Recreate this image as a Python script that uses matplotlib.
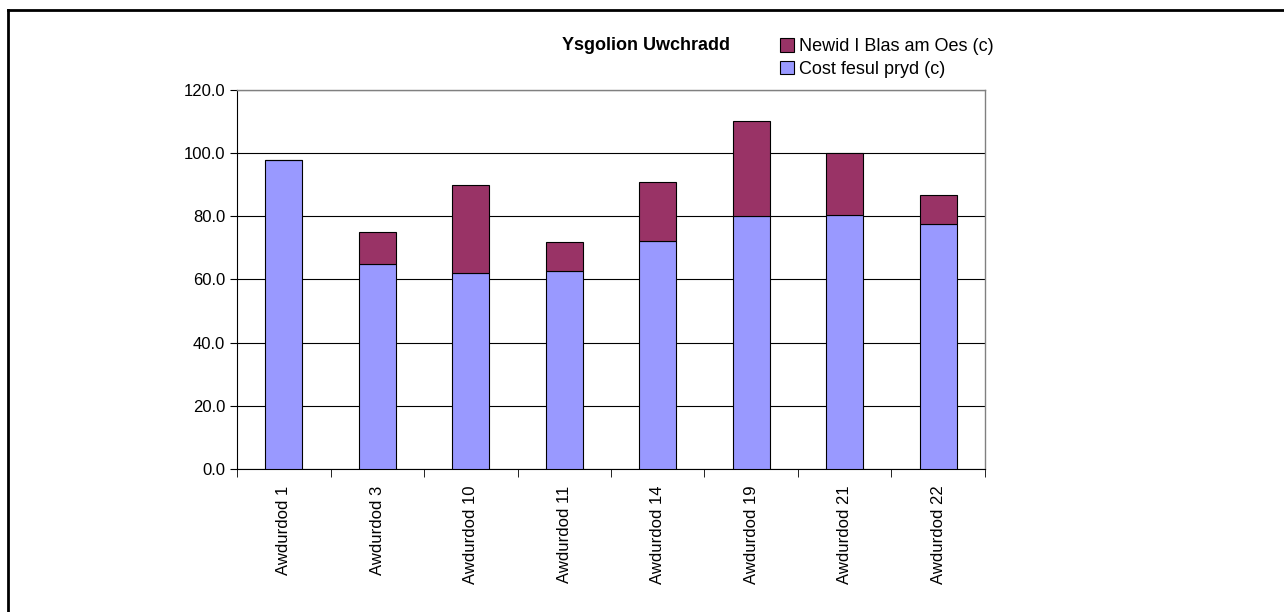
import numpy as np
import matplotlib
matplotlib.use('Agg')
import matplotlib.pyplot as plt
from matplotlib.lines import Line2D
from matplotlib.patches import Patch

plt.rcParams['font.family'] = ['Liberation Sans', 'DejaVu Sans']

categories = ['Awdurdod 1', 'Awdurdod 3', 'Awdurdod 10', 'Awdurdod 11',
              'Awdurdod 14', 'Awdurdod 19', 'Awdurdod 21', 'Awdurdod 22']
cost_per_meal = [97.8, 64.8, 62.0, 62.8, 72.1, 80.0, 80.5, 77.5]
change_appetite = [0.0, 10.2, 28.0, 9.2, 18.7, 30.1, 19.7, 9.3]
yticks = [0, 20, 40, 60, 80, 100, 120]

blue = '#9999ff'
purple = '#993366'

fig = plt.figure(figsize=(12.84, 6.12), dpi=100)
ax = fig.add_axes([0.1846, 0.2337, 0.5825, 0.6193])

x = np.arange(len(categories))
ax.bar(x, cost_per_meal, width=0.4, color=blue, edgecolor='black', linewidth=0.8, zorder=3)
ax.bar(x, change_appetite, width=0.4, bottom=cost_per_meal, color=purple,
       edgecolor='black', linewidth=0.8, zorder=3)

ax.set_xlim(-0.5, len(categories) - 0.5)
ax.set_ylim(0, 120)
ax.set_yticks(yticks)
ax.set_yticklabels([f'{v:.1f}' for v in yticks], fontsize=12)
ax.yaxis.grid(True, color='black', linewidth=0.8, zorder=0)

ax.set_xticks(x)
ax.set_xticklabels(categories, rotation=90, fontsize=12)
ax.tick_params(axis='x', length=0, pad=12)
ax.set_xticks(np.arange(len(categories) + 1) - 0.5, minor=True)
ax.tick_params(axis='x', which='minor', length=6, color='black', direction='out')
ax.tick_params(axis='y', length=5, color='black', direction='out')

for s in ['top', 'right']:
    ax.spines[s].set_color('#808080')
    ax.spines[s].set_linewidth(1)
ax.spines['left'].set_color('black')
ax.spines['bottom'].set_color('black')

fig.text(0.5035, 0.925, 'Ysgolion Uwchradd', fontsize=13, fontweight='bold',
         ha='center', va='center')

handles = [Patch(facecolor=purple, edgecolor='black', linewidth=0.8),
           Patch(facecolor=blue, edgecolor='black', linewidth=0.8)]
fig.legend(handles, ['Newid I Blas am Oes (c)', 'Cost fesul pryd (c)'],
           loc='upper left', bbox_to_anchor=(0.598, 0.958), frameon=False,
           fontsize=13, handlelength=0.75, handleheight=0.75, handletextpad=0.25,
           labelspacing=0.3, borderpad=0.2)

# frame lines on top and left of the chart area
fig.add_artist(Line2D([0.006, 1.0], [0.984, 0.984], color='black', linewidth=2,
                      transform=fig.transFigure))
fig.add_artist(Line2D([0.006, 0.006], [0.0, 0.984], color='black', linewidth=2,
                      transform=fig.transFigure))

fig.savefig('out.png', dpi=100)
